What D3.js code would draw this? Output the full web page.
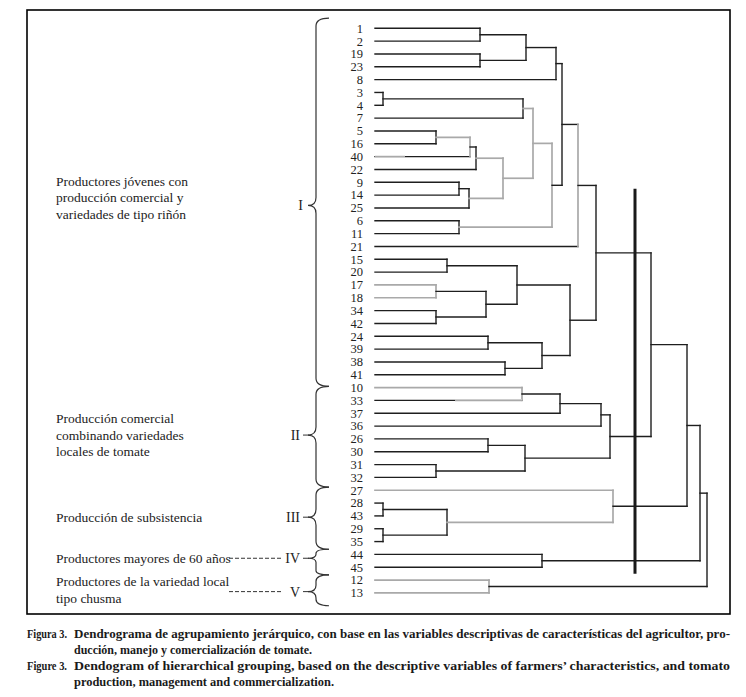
<!DOCTYPE html>
<html><head><meta charset="utf-8">
<script src="https://cdn.jsdelivr.net/npm/d3@7"></script>
<style>body{margin:0;background:#fff} svg{display:block}</style>
</head><body><svg id="chart" width="746" height="697"></svg>
<script>
// ---------------- DATA ----------------
const leaves = ["1","2","19","23","8","3","4","7","5","16","40","22","9","14","25","6","11","21",
  "15","20","17","18","34","42","24","39","38","41",
  "10","33","37","36","26","30","31","32",
  "27","28","43","29","35",
  "44","45",
  "12","13"];

// merges: [node id, child a, child b, linkage distance]
const merges = [
  ["A","1","2",10.5],
  ["B","19","23",10.5],
  ["C","A","B",15.1],
  ["D","C","8",18.1],
  ["E","3","4",0.8],
  ["F","E","7",14.8],
  ["G","5","16",6.1],
  ["H","G","40",9.5],
  ["H2","H","22",10.1],
  ["J","9","14",8.4],
  ["K","J","25",9.4],
  ["L","H2","K",12.8],
  ["M","F","L",15.8],
  ["N","6","11",8.4],
  ["O","M","N",17.7],
  ["P","D","O",18.7],
  ["Q","P","21",20.3],
  ["R","15","20",7.2],
  ["S","17","18",6.1],
  ["T","34","42",6.1],
  ["U","S","T",11.1],
  ["V","R","U",14.2],
  ["W","24","39",11.3],
  ["X","38","41",13.0],
  ["Y","W","X",16.7],
  ["Z","V","Y",19.5],
  ["GI","Q","Z",22.1],
  ["AA","10","33",14.7],
  ["AB","AA","37",18.5],
  ["AC","AB","36",22.6],
  ["AD","26","30",11.3],
  ["AE","31","32",6.1],
  ["AF","AD","AE",15.0],
  ["GII","AC","AF",23.5],
  ["I_II","GI","GII",27.6],
  ["AG","28","43",0.8],
  ["AH","29","35",0.8],
  ["AI","AG","AH",7.2],
  ["GIII","27","AI",23.8],
  ["I_III","I_II","GIII",31.2],
  ["GIV","44","45",16.7],
  ["I_IV","I_III","GIV",32.5],
  ["GV","12","13",11.4],
  ["ROOT","I_IV","GV",33.2]
];

const cutHeight = 26.0;
const cutSpan = [12.5, 42.5];   // in leaf-index units

// group braces (leaf-index units)
const groupNames = ["I","II","III","IV","V"];
const groupTop    = [-0.8, 27.9, 35.75, 40.6, 42.6];
const groupTip    = [13.8, 31.7, 38.1, 41.3, 43.9];
const groupBottom = [27.9, 35.75, 40.6, 42.6, 45.0];
const groupText = [
  ["Productores jóvenes con","producción comercial y","variedades de tipo riñón"],
  ["Producción comercial","combinando variedades","locales de tomate"],
  ["Producción de subsistencia"],
  ["Productores mayores de 60 años"],
  ["Productores de la variedad local","tipo chusma"]
];

const captionLabels = ["Figura 3.","Figure 3."];
const captionES = ["Dendrograma de agrupamiento jerárquico, con base en las variables descriptivas de características del agricultor, pro-",
                   "ducción, manejo y comercialización de tomate."];
const captionEN = ["Dendogram of hierarchical grouping, based on the descriptive variables of farmers’ characteristics, and tomato",
                   "production, management and commercialization."];

// ---------------- STYLE ----------------
const greyNodes = ["H","L","M","O","Q","S","AA","GIII","GV"];
const greyLegs  = ["G","H2","K","F","L","M","N","17","18","10","27","AI","12","13"];
const partialGrey = [["40",0,3.0],["33",8.0,14.7]];   // [leaf, from distance, to distance]
const BLACK = "#1e1e1e", GREY = "#a9a9a9";
const serif = "'Liberation Serif', 'Times New Roman', serif";

// ---------------- DRAW ----------------
const svg = d3.select("#chart");
const x = d3.scaleLinear().domain([0, 35]).range([375, 725]);
const yIdx = d3.scaleLinear().domain([0, leaves.length - 1]).range([28.3, 592.9]);
const y = d3.scalePoint().domain(leaves).range([28.3, 592.9]);

// frame
svg.append("rect").attr("x",27).attr("y",10).attr("width",703).attr("height",604)
  .attr("fill","none").attr("stroke","#000").attr("stroke-width",1.6);

// node positions
const pos = {};
leaves.forEach(l => pos[l] = {x: x(0), y: y(l)});
merges.forEach(([id,a,b,h]) => { pos[id] = {x: x(h), y: (pos[a].y + pos[b].y)/2}; });

const g = svg.append("g").attr("fill","none").attr("stroke-linecap","square");
merges.forEach(([id,a,b,h]) => {
  const nx = x(h);
  [a,b].forEach(c => {
    g.append("line").attr("x1",pos[c].x).attr("x2",nx).attr("y1",pos[c].y).attr("y2",pos[c].y)
      .attr("stroke", greyLegs.includes(c) ? GREY : BLACK)
      .attr("stroke-width", greyLegs.includes(c) ? 1.7 : 1.4);
  });
  g.append("line").attr("x1",nx).attr("x2",nx).attr("y1",pos[a].y).attr("y2",pos[b].y)
    .attr("stroke", greyNodes.includes(id) ? GREY : BLACK)
    .attr("stroke-width", greyNodes.includes(id) ? 1.7 : 1.4);
});
partialGrey.forEach(([leaf,f,t]) => {
  g.append("line").attr("x1",x(f)).attr("x2",x(t)).attr("y1",y(leaf)).attr("y2",y(leaf))
    .attr("stroke","#fff").attr("stroke-width",2.2).attr("stroke-linecap","butt");
  g.append("line").attr("x1",x(f)).attr("x2",x(t)).attr("y1",y(leaf)).attr("y2",y(leaf))
    .attr("stroke",GREY).attr("stroke-width",1.7).attr("stroke-linecap","butt");
});

// cut line
svg.append("line").attr("x1",x(cutHeight)).attr("x2",x(cutHeight))
  .attr("y1",yIdx(cutSpan[0])).attr("y2",yIdx(cutSpan[1]))
  .attr("stroke","#1a1a1a").attr("stroke-width",3);

// leaf labels
svg.append("g").selectAll("text").data(leaves).join("text")
  .attr("x",363).attr("y",d => y(d)).attr("dy","0.35em")
  .attr("text-anchor","end").attr("font-family",serif).attr("font-size",12.5)
  .attr("fill","#222").text(d => d);

// braces
const xTip = 308, xBody = 316, xEnd = 329;
groupNames.forEach((name,i) => {
  const t = yIdx(groupTop[i]), m = yIdx(groupTip[i]), b = yIdx(groupBottom[i]);
  const r = Math.min(8, (m - t)/2.2, (b - m)/2.2);
  const p = `M${xEnd},${t} Q${xBody},${t} ${xBody},${t+r} L${xBody},${m-r} Q${xBody},${m} ${xTip},${m}` +
            ` Q${xBody},${m} ${xBody},${m+r} L${xBody},${b-r} Q${xBody},${b} ${xEnd},${b}`;
  svg.append("path").attr("d",p).attr("fill","none").attr("stroke","#333").attr("stroke-width",1.2);
  svg.append("text").attr("x", i===0 ? 303 : 300).attr("y",m).attr("dy","0.35em")
    .attr("text-anchor","end").attr("font-family",serif).attr("font-size",14).attr("fill","#222").text(name);
  if (i > 0) svg.append("line").attr("x1",303).attr("x2",309).attr("y1",m).attr("y2",m)
    .attr("stroke","#333").attr("stroke-width",1);
  const lines = groupText[i];
  const lh = 16.5;
  const cy = m + (i===0 ? -8 : (i===4 ? -2 : 0));
  const txt = svg.append("text").attr("font-family",serif).attr("font-size",13.5).attr("fill","#222");
  lines.forEach((s,k) => {
    txt.append("tspan").attr("x",56).attr("y", cy + (k - (lines.length-1)/2)*lh).attr("dy","0.35em").text(s);
  });
  if (i === 3 || i === 4) {
    svg.append("line").attr("x1",229).attr("x2",281).attr("y1",m).attr("y2",m)
      .attr("stroke","#333").attr("stroke-width",1).attr("stroke-dasharray","4,2");
  }
});

// caption
const cap = svg.append("g").attr("font-family",serif).attr("font-weight","bold")
  .attr("font-size",12).attr("fill","#1a1a1a");
const capRows = [
  {y:634, lines:captionES, w2:238},
  {y:666, lines:captionEN, w2:260}
];
capRows.forEach((r,i) => {
  cap.append("text").attr("x",27).attr("y",r.y).attr("dy","0.35em")
    .attr("textLength",40).attr("lengthAdjust","spacingAndGlyphs").text(captionLabels[i]);
  cap.append("text").attr("x",74).attr("y",r.y).attr("dy","0.35em")
    .attr("textLength",656).attr("lengthAdjust","spacingAndGlyphs").text(r.lines[0]);
  cap.append("text").attr("x",74).attr("y",r.y+15.5).attr("dy","0.35em")
    .attr("textLength",r.w2).attr("lengthAdjust","spacingAndGlyphs").text(r.lines[1]);
});
</script>
</body></html>
